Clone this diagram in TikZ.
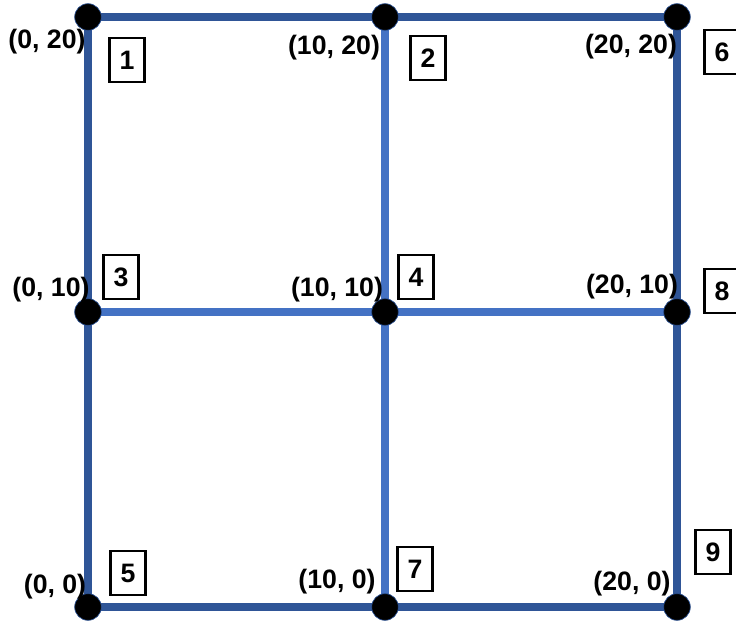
\documentclass[tikz,border=0pt]{standalone}
\usepackage{fontspec}
\setmainfont{Liberation Sans}
\definecolor{azulborda}{HTML}{2F5597}
\definecolor{azulmeio}{HTML}{4472C4}
\tikzset{
    ponto/.style={circle, fill=black, draw=azulborda, line width=0.5pt, inner sep=0pt, minimum size=20pt},
    rotulo/.style={font=\fontsize{20}{24}\selectfont\bfseries, inner sep=0pt},
    caixa/.style={draw, line width=2pt, font=\fontsize{20}{24}\selectfont\bfseries,
        minimum width=26pt, minimum height=33pt, inner sep=0pt},
    externa/.style={draw=azulborda, line width=6pt},
    interna/.style={draw=azulmeio, line width=6pt}
}

\begin{document}
\begin{tikzpicture}[x=0.75pt, y=-0.75pt]

    % 0. Moldura da figura (mesmas proporções da referência)
    \useasboundingbox (0,0) rectangle (736,625);

    % 1. Vértices da malha 3x3
    \coordinate (v0x20) at (88,17);
    \coordinate (v10x20) at (385,17);
    \coordinate (v20x20) at (677,17);
    \coordinate (v0x10) at (88,312);
    \coordinate (v10x10) at (385,312);
    \coordinate (v20x10) at (677,312);
    \coordinate (v0x0) at (88,607);
    \coordinate (v10x0) at (385,607);
    \coordinate (v20x0) at (677,607);

    % 2. Arestas internas (azul mais claro)
    \draw[interna] (v0x10) -- (v10x10) -- (v20x10);
    \draw[interna] (v10x20) -- (v10x10) -- (v10x0);

    % 3. Contorno externo (azul escuro)
    \draw[externa] (v0x20) -- (v10x20) -- (v20x20);
    \draw[externa] (v0x0) -- (v10x0) -- (v20x0);
    \draw[externa] (v0x20) -- (v0x10) -- (v0x0);
    \draw[externa] (v20x20) -- (v20x10) -- (v20x0);

    % 4. Pontos pretos nos vértices (por cima das arestas)
    \foreach \v in {v0x20, v10x20, v20x20, v0x10, v10x10, v20x10, v0x0, v10x0, v20x0}
        \node[ponto] (p\v) at (\v) {};

    % 5. Coordenadas escritas ao lado de cada vértice
    \node[rotulo] (c0x20) at (47,42) {(0, 20)};
    \node[rotulo] (c10x20) at (334,48) {(10, 20)};
    \node[rotulo] (c20x20) at (631,47) {(20, 20)};
    \node[rotulo] (c0x10) at (51,290) {(0, 10)};
    \node[rotulo] (c10x10) at (337,290) {(10, 10)};
    \node[rotulo] (c20x10) at (632,287) {(20, 10)};
    \node[rotulo] (c0x0) at (55,587) {(0, 0)};
    \node[rotulo] (c10x0) at (337,582) {(10, 0)};
    \node[rotulo] (c20x0) at (632,584) {(20, 0)};

    % 6. Caixas numeradas (6 e 8 ficam cortadas na borda direita)
    \node[caixa] (n1) at (127,60) {1};
    \node[caixa] (n2) at (428,58) {2};
    \node[caixa] (n3) at (121,277) {3};
    \node[caixa] (n4) at (416,277) {4};
    \node[caixa] (n5) at (128,573) {5};
    \node[caixa] (n6) at (722,52) {6};
    \node[caixa] (n7) at (415,569) {7};
    \node[caixa] (n8) at (722,291) {8};
    \node[caixa] (n9) at (713,552) {9};

\end{tikzpicture}
\end{document}
